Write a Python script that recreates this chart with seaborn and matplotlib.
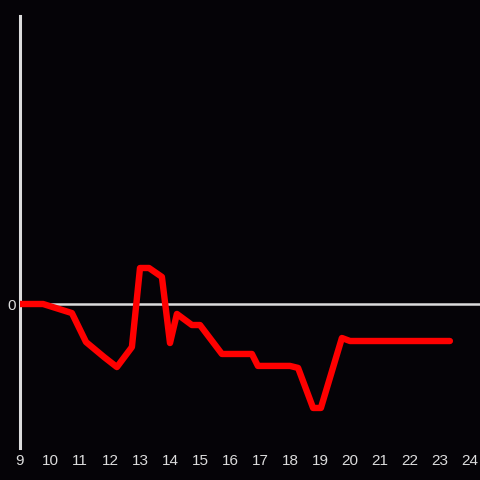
import pandas as pd
import matplotlib
matplotlib.use("Agg")
import matplotlib.pyplot as plt
import seaborn as sns

# hour of day and value
hours = [9.0, 9.77, 10.73, 11.2, 11.8, 12.23, 12.73, 13.0, 13.3, 13.73, 14.0,
         14.23, 14.73, 15.0, 15.73, 16.73, 16.93, 18.0, 18.27, 18.77, 19.03,
         19.73, 20.0, 23.33]
values = [0.0, 0.0, -0.063, -0.264, -0.368, -0.438, -0.299, 0.25, 0.25, 0.188,
          -0.271, -0.069, -0.146, -0.146, -0.347, -0.347, -0.43, -0.43, -0.444,
          -0.722, -0.722, -0.236, -0.257, -0.257]
xticks = list(range(9, 25))

bg = "#050307"
fg = "#dcdcdc"

sns.set_style("dark")
plt.rcParams["font.family"] = ["Liberation Sans", "DejaVu Sans"]

data = pd.DataFrame({"hour": hours, "value": values})

fig = plt.figure(figsize=(4.8, 4.8), dpi=100, facecolor=bg)
ax = fig.add_axes([20 / 480, 32 / 480, 460 / 480, 432 / 480])
ax.set_facecolor(bg)

ax.axhline(0, color=fg, lw=1.8, zorder=1)
sns.lineplot(data=data, x="hour", y="value", ax=ax, color="#ff0000",
             lw=4.6, zorder=3, sort=False)

ax.set_xlim(9, 9 + 460 / 30)
ax.set_ylim(-1, 2)
ax.set_xticks(xticks)
ax.set_yticks([0])
ax.tick_params(colors=fg, labelsize=11, length=0)
ax.tick_params(axis="x", pad=4)
ax.tick_params(axis="y", pad=3)
ax.grid(False)
ax.set_xlabel("")
ax.set_ylabel("")

for side in ["top", "right", "bottom"]:
    ax.spines[side].set_visible(False)
ax.spines["left"].set_color(fg)
ax.spines["left"].set_linewidth(2.2)

fig.savefig("out.png", dpi=100, facecolor=bg)
